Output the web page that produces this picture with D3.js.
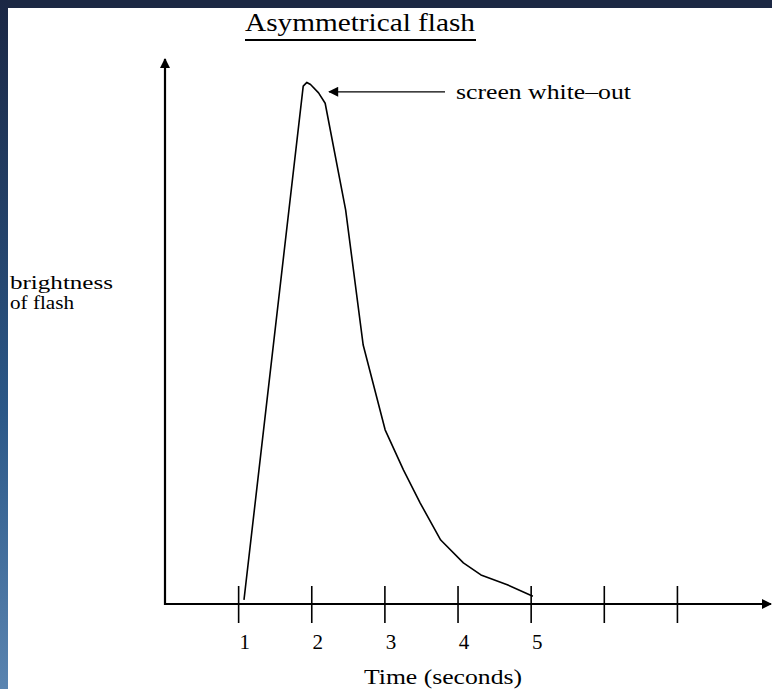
<html>
<head>
<script src="https://d3js.org/d3.v7.min.js"></script>
<style>
  body { margin: 0; background: #fff; }
  text { font-family: "Liberation Serif", "DejaVu Serif", serif; fill: #000; }
</style>
</head>
<body>
<svg id="svgMain" width="772" height="689"></svg>
<script>
// values
const times = [1.08, 1.89, 1.94, 1.99, 2.10, 2.19, 2.47, 2.71, 3.01, 3.26, 3.49, 3.77, 4.08, 4.32, 4.68, 5.03];
const brightness = [0.8, 99.6, 100.3, 99.9, 98.3, 96.3, 75.8, 49.8, 33.5, 25.8, 19.4, 12.3, 7.9, 5.6, 3.7, 1.5];
const tickValues = [1, 2, 3, 4, 5, 6, 7];
const tickLabels = ["1", "2", "3", "4", "5", "", ""];
const peakTime = 2.19, peakValue = 98.5;

const svg = d3.select("#svgMain");
const W = 772, H = 689;

// frame round the picture
const defs = svg.append("defs");
const grad = defs.append("linearGradient").attr("id", "leftBand")
    .attr("x1", 0).attr("y1", 0).attr("x2", 0).attr("y2", 1);
grad.append("stop").attr("offset", "0%").attr("stop-color", "#1b2744");
grad.append("stop").attr("offset", "60%").attr("stop-color", "#2b5888");
grad.append("stop").attr("offset", "100%").attr("stop-color", "#5a84b0");

svg.append("rect").attr("width", W).attr("height", H).attr("fill", "#fff");
svg.append("rect").attr("width", W).attr("height", 8).attr("fill", "#1c2844");
svg.append("rect").attr("width", 8).attr("height", H).attr("fill", "url(#leftBand)");

const x = d3.scaleLinear().domain([0, 8.3]).range([165, 772]);
const y = d3.scaleLinear().domain([0, 100]).range([604, 84]);

// arrow heads
defs.append("marker").attr("id", "head")
    .attr("viewBox", "0 0 10 10").attr("refX", 9).attr("refY", 5)
    .attr("markerUnits", "userSpaceOnUse")
    .attr("markerWidth", 14).attr("markerHeight", 10)
    .attr("orient", "auto")
    .append("path").attr("d", "M0,0 L10,5 L0,10 Z").attr("fill", "#000");

// x axis
const xAxis = d3.axisBottom(x).tickValues(tickValues)
    .tickSize(19).tickFormat((d, i) => tickLabels[i]);
const gx = svg.append("g").attr("transform", "translate(0," + y(0) + ")").call(xAxis);
gx.select(".domain").remove();
gx.selectAll(".tick line").attr("y1", -18).attr("stroke", "#000").attr("stroke-width", 1.6);
gx.selectAll(".tick text").attr("dx", 6).attr("y", 30)
    .style("font-size", "21px").attr("fill", "#000");

svg.append("line")
    .attr("x1", x(0)).attr("x2", x(8.3) - 1)
    .attr("y1", y(0)).attr("y2", y(0))
    .attr("stroke", "#000").attr("stroke-width", 2.2)
    .attr("marker-end", "url(#head)");

// y axis
svg.append("line")
    .attr("x1", x(0)).attr("x2", x(0))
    .attr("y1", y(0) + 1).attr("y2", y(104.8))
    .attr("stroke", "#000").attr("stroke-width", 2.2)
    .attr("marker-end", "url(#head)");

// the flash curve
const line = d3.line()
    .x((d, i) => x(times[i]))
    .y((d, i) => y(brightness[i]))
    .curve(d3.curveLinear);

svg.append("path")
    .datum(times)
    .attr("d", line)
    .attr("fill", "none")
    .attr("stroke", "#000")
    .attr("stroke-width", 1.6)
    .attr("stroke-linejoin", "round");

// annotation arrow
svg.append("line")
    .attr("x1", 445).attr("x2", x(peakTime) + 4)
    .attr("y1", y(peakValue)).attr("y2", y(peakValue))
    .attr("stroke", "#000").attr("stroke-width", 1.3)
    .attr("marker-end", "url(#head)");

svg.append("text")
    .attr("x", 456).attr("y", y(peakValue) + 7)
    .attr("textLength", 175).attr("lengthAdjust", "spacingAndGlyphs")
    .style("font-size", "20px")
    .text("screen white\u2013out");

// title
svg.append("text")
    .attr("x", 245).attr("y", 31)
    .attr("textLength", 230).attr("lengthAdjust", "spacingAndGlyphs")
    .style("font-size", "25px")
    .text("Asymmetrical flash");
svg.append("line")
    .attr("x1", 245).attr("x2", 476).attr("y1", 40).attr("y2", 40)
    .attr("stroke", "#000").attr("stroke-width", 2);

// axis titles
svg.append("text")
    .attr("x", 10).attr("y", 289)
    .attr("textLength", 103).attr("lengthAdjust", "spacingAndGlyphs")
    .style("font-size", "19px")
    .text("brightness");
svg.append("text")
    .attr("x", 10).attr("y", 309)
    .attr("textLength", 64).attr("lengthAdjust", "spacingAndGlyphs")
    .style("font-size", "19px")
    .text("of flash");

svg.append("text")
    .attr("x", 364).attr("y", 684)
    .attr("textLength", 158).attr("lengthAdjust", "spacingAndGlyphs")
    .style("font-size", "20px")
    .text("Time (seconds)");
</script>
</body>
</html>
